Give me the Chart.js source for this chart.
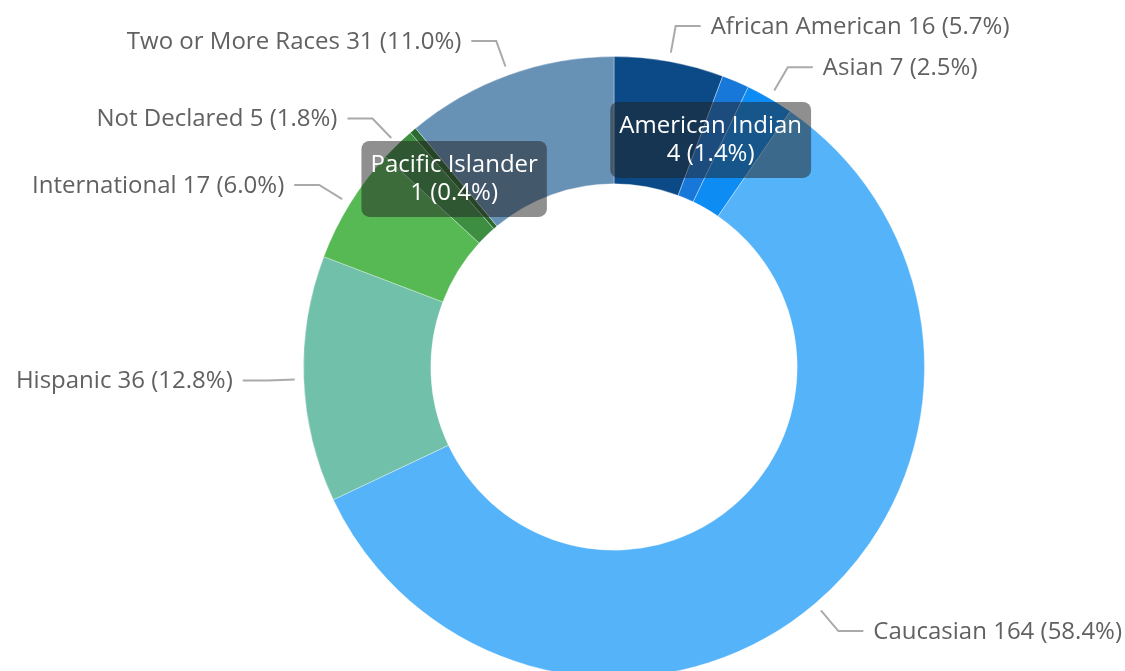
<!DOCTYPE html>
<html>
<head>
<meta charset="utf-8">
<title>Enrollment by Race</title>
<script src="https://cdn.jsdelivr.net/npm/chart.js@4/dist/chart.umd.min.js"></script>
<style>
  html, body { margin: 0; padding: 0; background: #fff; overflow: hidden; }
  #wrap { position: relative; width: 1125px; height: 700px; }
</style>
</head>
<body>
<div id="wrap"><canvas id="raceChart"></canvas></div>
<script>
  const categories = ['African American', 'American Indian', 'Asian', 'Caucasian', 'Hispanic',
    'International', 'Not Declared', 'Pacific Islander', 'Two or More Races'];
  const counts = [16, 4, 7, 164, 36, 17, 5, 1, 31];
  const sliceColors = ['#0b4a87', '#1878da', '#0d8cf4', '#54b3f9', '#71c0a9',
    '#56b954', '#3e8e42', '#2c6a2f', '#6891b6'];

  const total = counts.reduce((a, b) => a + b, 0);
  const pctText = v => (v / total * 100).toFixed(1) + '%';
  const FONT = '"Open Sans", "Noto Sans", sans-serif';

  // small slices get a boxed label on the ring, the rest a leader line outside
  const sliceLabels = {
    id: 'sliceLabels',
    afterDatasetsDraw(chart) {
      const ctx = chart.ctx;
      const arcs = chart.getDatasetMeta(0).data;
      const boxes = [];
      ctx.save();
      arcs.forEach((arc, i) => {
        const p = arc.getProps(['x', 'y', 'startAngle', 'endAngle', 'innerRadius', 'outerRadius'], true);
        const mid = (p.startAngle + p.endAngle) / 2;
        const cos = Math.cos(mid), sin = Math.sin(mid);
        const share = counts[i] / total * 100;
        if (share < 1.5) {
          const r = (p.innerRadius + p.outerRadius) / 2;
          boxes.push({ i, x: p.x + cos * r, y: p.y + sin * r });
          return;
        }
        const r1 = p.outerRadius + 9, r2 = p.outerRadius + 36;
        const x1 = p.x + cos * r1, y1 = p.y + sin * r1;
        const x2 = p.x + cos * r2, y2 = p.y + sin * r2;
        const right = cos >= 0;
        const x3 = x2 + (right ? 25 : -25);
        ctx.strokeStyle = '#aaaaaa';
        ctx.lineWidth = 2;
        ctx.beginPath();
        ctx.moveTo(x1, y1);
        ctx.lineTo(x2, y2);
        ctx.lineTo(x3, y2);
        ctx.stroke();
        ctx.font = '24px ' + FONT;
        ctx.fillStyle = '#616161';
        ctx.textBaseline = 'middle';
        ctx.textAlign = right ? 'left' : 'right';
        ctx.fillText(`${categories[i]} ${counts[i]} (${pctText(counts[i])})`, x3 + (right ? 10 : -10), y2 + 1);
      });

      boxes.forEach(b => {
        const line1 = categories[b.i];
        const line2 = `${counts[b.i]} (${pctText(counts[b.i])})`;
        ctx.font = '24px ' + FONT;
        const w = Math.max(ctx.measureText(line1).width, ctx.measureText(line2).width) + 18;
        const h = 76;
        ctx.fillStyle = 'rgba(32, 32, 32, 0.5)';
        ctx.beginPath();
        ctx.roundRect(b.x - w / 2, b.y - h / 2, w, h, 8);
        ctx.fill();
        ctx.fillStyle = '#ffffff';
        ctx.textAlign = 'center';
        ctx.textBaseline = 'middle';
        ctx.fillText(line1, b.x, b.y - 14);
        ctx.fillText(line2, b.x, b.y + 14);
      });
      ctx.restore();
    }
  };

  new Chart(document.getElementById('raceChart'), {
    type: 'doughnut',
    data: {
      labels: categories,
      datasets: [{
        data: counts,
        backgroundColor: sliceColors,
        borderColor: 'rgba(255,255,255,0.35)',
        borderWidth: 1
      }]
    },
    options: {
      responsive: true,
      maintainAspectRatio: false,
      animation: false,
      cutout: '59%',
      layout: { padding: { left: 103, right: 0, top: 56, bottom: 22 } },
      plugins: {
        legend: { display: false },
        tooltip: { enabled: false }
      }
    },
    plugins: [sliceLabels]
  });
</script>
</body>
</html>
